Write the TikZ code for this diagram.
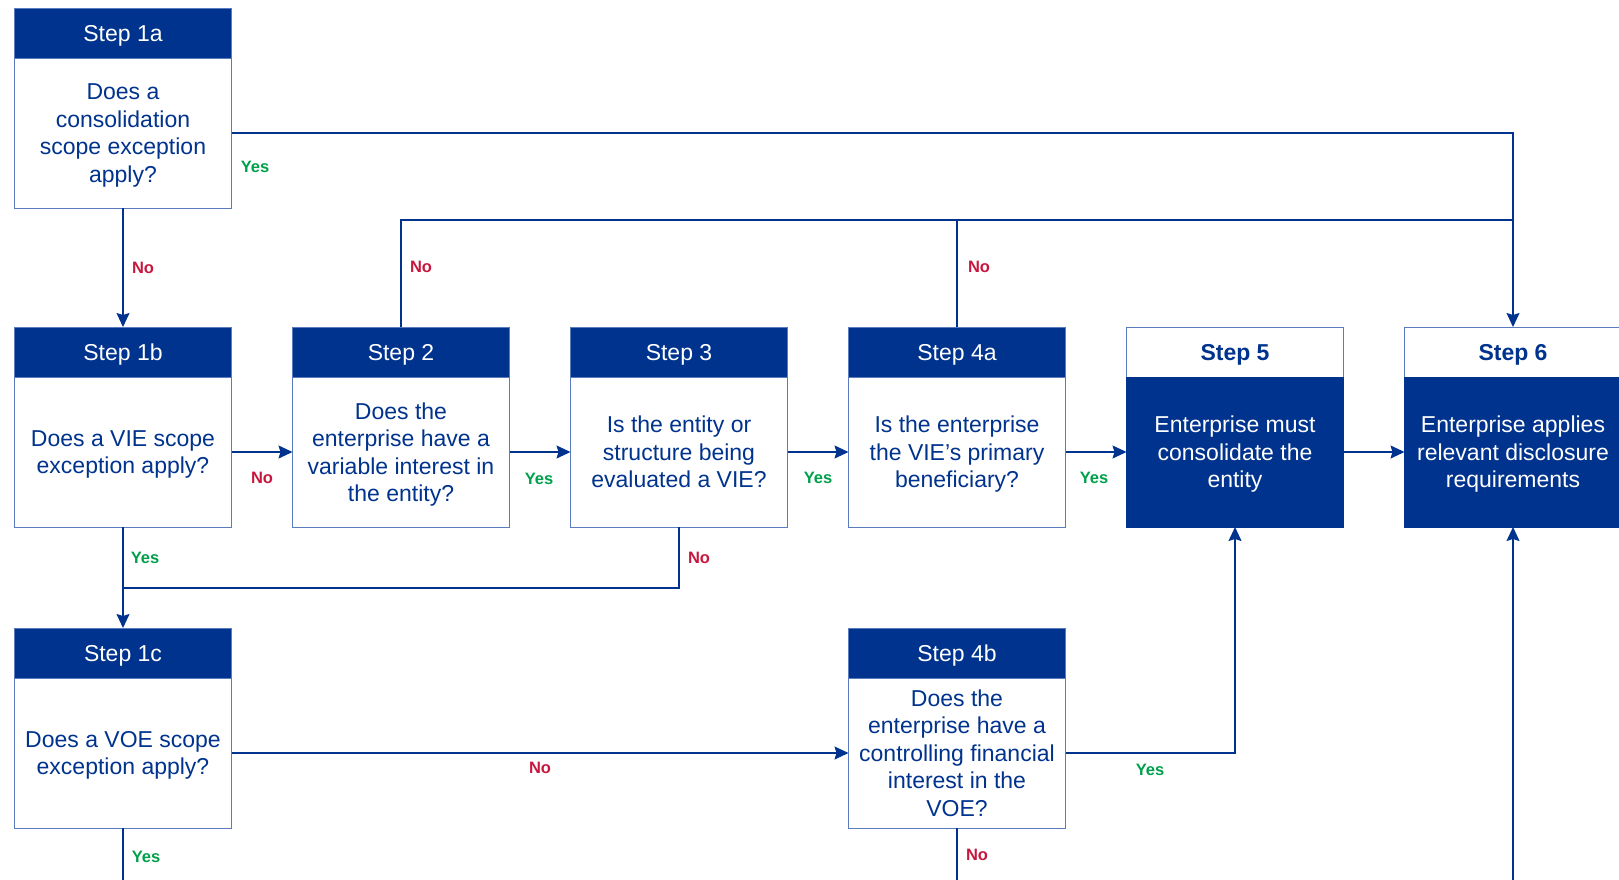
\documentclass[tikz,border=0pt]{standalone}
\usepackage{fontspec}
\setmainfont{Liberation Sans}
\usetikzlibrary{positioning,arrows.meta}

\definecolor{kblue}{HTML}{00338D}
\definecolor{kedge}{HTML}{5A7BBE}
\definecolor{kyes}{HTML}{00A04B}
\definecolor{kno}{HTML}{C8173F}

\tikzset{
  hdr/.style={draw=kedge, line width=1pt, fill=kblue, text=white, minimum width=217pt, minimum height=50pt,
    inner sep=0pt, outer sep=0pt, text depth=0pt, font=\fontsize{23}{27.5}\selectfont},
  hdrw/.style={hdr, fill=white, text=kblue, font=\fontsize{23}{27.5}\selectfont\bfseries},
  qbox/.style={draw=kedge, line width=1pt, fill=white, text=kblue, minimum width=217pt, minimum height=150pt,
    inner sep=0pt, outer sep=0pt, text depth=0pt, align=center, font=\fontsize{23}{27.4}\selectfont},
  abox/.style={qbox, fill=kblue, draw=kblue, text=white},
  flow/.style={draw=kblue, line width=1.3pt, -{Stealth[length=14pt,width=13pt,inset=2pt]}},
  wire/.style={draw=kblue, line width=1.3pt},
  yeslbl/.style={text=kyes, font=\fontsize{16.5}{16.5}\selectfont\bfseries},
  nolbl/.style={text=kno, font=\fontsize{16.5}{16.5}\selectfont\bfseries}
}

\begin{document}
\begin{tikzpicture}[x=1pt, y=-1pt]
\clip (0,0) rectangle (1619,879);

% first column
\node[hdr] (s1ah) at (123,33) {Step 1a};
\node[qbox, below=0pt of s1ah] (s1a) {Does a\\consolidation\\scope exception\\apply?};
\node[hdr, below=119pt of s1a] (s1bh) {Step 1b};
\node[qbox, below=0pt of s1bh] (s1b) {Does a VIE scope\\exception apply?};
\node[hdr, below=101pt of s1b] (s1ch) {Step 1c};
\node[qbox, below=0pt of s1ch] (s1c) {Does a VOE scope\\exception apply?};

% middle row
\node[hdr, right=61pt of s1bh] (s2h) {Step 2};
\node[qbox, below=0pt of s2h] (s2) {Does the\\enterprise have a\\variable interest in\\the entity?};
\node[hdr, right=61pt of s2h] (s3h) {Step 3};
\node[qbox, below=0pt of s3h] (s3) {Is the entity or\\structure being\\evaluated a VIE?};
\node[hdr, right=61pt of s3h] (s4ah) {Step 4a};
\node[qbox, below=0pt of s4ah] (s4a) {Is the enterprise\\the VIE’s primary\\beneficiary?};
\node[hdrw, right=61pt of s4ah] (s5h) {Step 5};
\node[abox, below=0pt of s5h] (s5) {Enterprise must\\consolidate the\\entity};
\node[hdrw, right=61pt of s5h] (s6h) {Step 6};
\node[abox, below=0pt of s6h] (s6) {Enterprise applies\\relevant disclosure\\requirements};

% bottom row
\node[hdr] (s4bh) at (s4ah |- s1ch) {Step 4b};
\node[qbox, below=0pt of s4bh] (s4b) {Does the\\enterprise have a\\controlling financial\\interest in the\\VOE?};

\coordinate (nojoin) at (1513,220);
\coordinate (j3) at (123,588);
\coordinate (bot) at (0,895);

% connectors
\draw[flow] (s1a.east) -| (s6h.north);
\draw[flow] (s1a.south) -- (s1bh.north);
\draw[wire] (s2h.north) |- (nojoin);
\draw[wire] (s4ah.north) -- (s4ah.north |- nojoin);
\draw[flow] (s1b.east) -- (s2.west);
\draw[flow] (s2.east) -- (s3.west);
\draw[flow] (s3.east) -- (s4a.west);
\draw[flow] (s4a.east) -- (s5.west);
\draw[flow] (s5.east) -- (s6.west);
\draw[flow] (s1b.south) -- (s1ch.north);
\draw[wire] (s3.south) |- (j3);
\draw[flow] (s1c.east) -- (s4b.west);
\draw[flow] (s4b.east) -| (s5.south);
\draw[wire] (s1c.south) -- (s1c.south |- bot);
\draw[wire] (s4b.south) -- (s4b.south |- bot);
\draw[flow] (s6.south |- bot) -- (s6.south);

% labels
\node[yeslbl] (l1ay) at (255,167) {Yes};
\node[nolbl] (l1an) at (143,268) {No};
\node[nolbl] (l2n) at (421,267) {No};
\node[nolbl] (l4an) at (979,267) {No};
\node[nolbl] (l1bn) at (262,478) {No};
\node[yeslbl] (l2y) at (539,479) {Yes};
\node[yeslbl] (l3y) at (818,478) {Yes};
\node[yeslbl] (l4ay) at (1094,478) {Yes};
\node[yeslbl] (l1by) at (145,558) {Yes};
\node[nolbl] (l3n) at (699,558) {No};
\node[nolbl] (l1cn) at (540,768) {No};
\node[yeslbl] (l4by) at (1150,770) {Yes};
\node[yeslbl] (l1cy) at (146,857) {Yes};
\node[nolbl] (l4bn) at (977,855) {No};

\end{tikzpicture}
\end{document}
